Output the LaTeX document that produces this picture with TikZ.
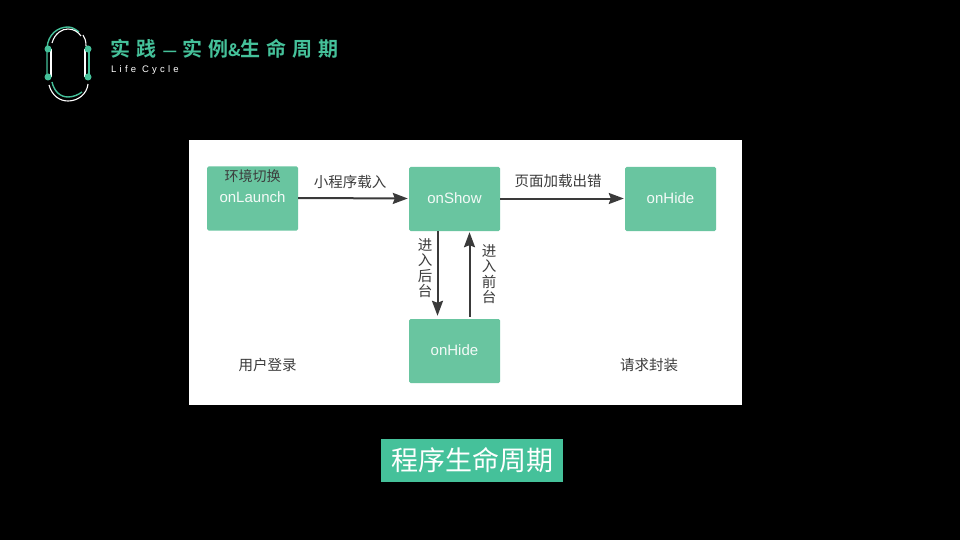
\documentclass[tikz,border=0pt]{standalone}
\usepackage{fontspec}
\setmainfont{Liberation Sans}
\newfontfamily\cjk{Noto Sans CJK SC}
\newfontfamily\cjktitle[LetterSpace=30]{Noto Sans CJK SC Bold}
\usetikzlibrary{arrows.meta}
\definecolor{lifegreen}{HTML}{45C19A}
\definecolor{boxgreen}{HTML}{69C5A0}
\definecolor{arrowgray}{HTML}{3A3A3A}
\definecolor{labelgray}{HTML}{3C3C3C}
\tikzset{
  lifebox/.style={fill=boxgreen, rounded corners=1.5pt, minimum width=91pt, minimum height=64pt,
    inner sep=0pt, text depth=2pt, text=white!92!boxgreen, font=\fontsize{15}{17}\selectfont},
  lifelabel/.style={text=labelgray, inner sep=0pt, align=center, font=\fontsize{14.5}{15.5}\selectfont\cjk},
  lifearrow/.style={draw=arrowgray, line width=2pt, -{Stealth[length=15pt,width=11pt,inset=2pt]}, shorten >=1pt},
  logogreen/.style={draw=lifegreen, line width=1.4pt},
  logowhite/.style={draw=white, line width=1.1pt},
}
\begin{document}
\begin{tikzpicture}[x=1pt,y=-1pt]
  \useasboundingbox (0,0) rectangle (960,540);
  \fill[black] (0,0) rectangle (960,540);
  % logo
  \draw[logogreen] (47,77) -- (47,48) .. controls (48,34) and (58,27) .. (68,27) .. controls (72,27) and (75,29) .. (79,32);
  \draw[logowhite] (52,43) .. controls (55,33) and (62,29) .. (68,29) .. controls (74,29) and (78,32) .. (81,36);
  \draw[logowhite] (83,35) .. controls (85,38) and (86,41) .. (86,46);
  \draw[logogreen] (89,50) -- (89,77);
  \draw[white, line width=1.6pt] (85,49) -- (85,77);
  \draw[white, line width=1.6pt] (51,49) -- (51,77);
  \draw[logogreen] (52,82) .. controls (54,91) and (60,97) .. (68,97) .. controls (73,97) and (78,95) .. (82,92);
  \draw[logowhite] (49,85) .. controls (52,96) and (60,101) .. (68,101) .. controls (78,101) and (87,94) .. (88,84);
  \foreach \X/\Y in {48/49,88/49,48/77,88/77} {
    \fill[lifegreen] (\X,\Y) circle[radius=3.5];
  }
  % title
  \node[text=lifegreen, anchor=west, inner sep=0pt, font=\fontsize{20}{22}\selectfont\cjktitle] (title) at (110.5,49)
    {实践\hspace{6pt}{\fontsize{16}{22}\selectfont —}\hspace{5pt}实例{\fontsize{17}{22}\selectfont\&}生命周期};
  \node[text=white, anchor=west, inner sep=0pt, font=\addfontfeature{LetterSpace=34}\fontsize{9.5}{11}\selectfont] (subtitle) at (111,70) {Life Cycle};
  % panel
  \fill[white] (189,140) rectangle (742,405);
  \node[lifebox] (launch) at (252.5,198.5) {onLaunch};
  \node[lifebox] (show) at (454.5,199) {onShow};
  \node[lifebox] (hideright) at (670.5,199) {onHide};
  \node[lifebox] (hidedown) at (454.5,351) {onHide};
  \node[lifelabel, font=\fontsize{14}{16}\selectfont\cjk] (env) at (252.5,176) {环境切换};
  \draw[lifearrow] ([yshift=.5pt]launch.east) -- ([yshift=.5pt]show.west);
  \draw[lifearrow] ([yshift=.5pt]show.east) -- ([yshift=.5pt]hideright.west);
  \draw[lifearrow] ([xshift=-17pt]show.south) -- ([xshift=-17pt,yshift=2pt]hidedown.north);
  \draw[lifearrow] ([xshift=15pt,yshift=2pt]hidedown.north) -- ([xshift=15pt]show.south);
  \node[lifelabel] (load) at (350,182) {小程序载入};
  \node[lifelabel] (fail) at (558,181) {页面加载出错};
  \node[lifelabel] (back) at (425,268) {进\\入\\后\\台};
  \node[lifelabel] (front) at (489,274) {进\\入\\前\\台};
  \node[lifelabel] (login) at (267.5,365) {用户登录};
  \node[lifelabel] (wrap) at (649,365) {请求封装};
  % caption
  \node[fill=lifegreen, text=white, minimum width=182pt, minimum height=43pt, inner sep=0pt,
    font=\fontsize{27}{30}\selectfont\cjk] (caption) at (472,460.5) {程序生命周期};
\end{tikzpicture}
\end{document}
